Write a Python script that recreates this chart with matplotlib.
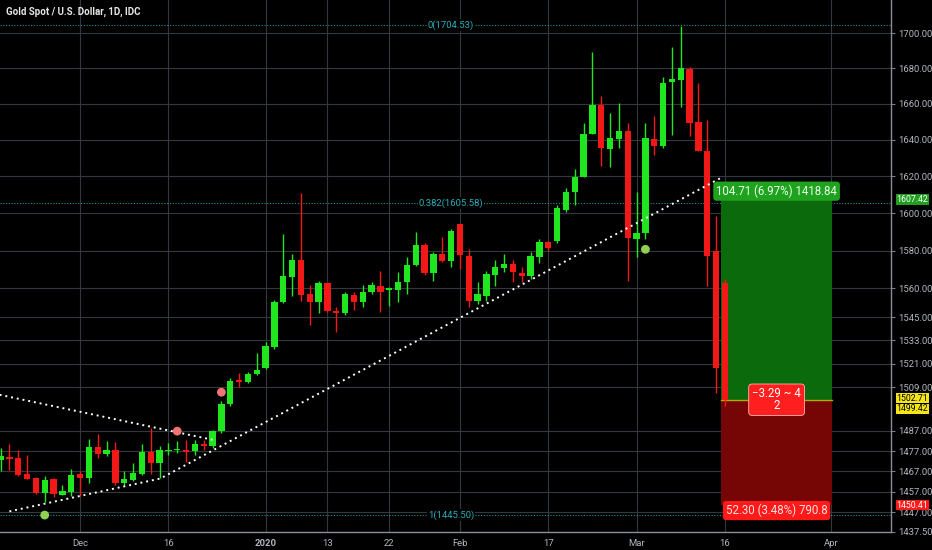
import numpy as np
import pandas as pd
import matplotlib
matplotlib.use("Agg")
import matplotlib.pyplot as plt
from matplotlib.ticker import FixedLocator, NullLocator, FuncFormatter

TITLE = "Gold Spot / U.S. Dollar, 1D, IDC"

# daily bars, first one = 19 Nov 2019 (25 Dec and 1 Jan have no bar)
opens = [1472.6, 1474.1, 1473.6, 1465.7, 1463.8, 1456.4, 1463.3, 1455.5, 1456.9, 1465.7,
         1463.8, 1479.0, 1475.5, 1477.5, 1461.3, 1462.8, 1465.7, 1476.5, 1471.1, 1477.0,
         1477.5, 1477.5, 1477.0, 1480.5, 1479.5, 1486.9, 1500.3, 1512.9, 1511.9, 1516.0,
         1519.0, 1529.7, 1552.9, 1565.9, 1574.9, 1557.0, 1552.9, 1562.8, 1548.2, 1547.2,
         1556.5, 1552.9, 1558.1, 1561.2, 1559.1, 1559.1, 1563.3, 1572.3, 1582.8, 1568.0,
         1578.1, 1574.4, 1594.0, 1577.0, 1553.4, 1556.0, 1567.0, 1570.7, 1572.8, 1568.0,
         1566.5, 1576.5, 1584.4, 1584.9, 1601.5, 1611.7, 1619.8, 1643.4, 1659.4, 1635.1,
         1640.6, 1645.0, 1586.0, 1589.2, 1640.6, 1636.8, 1672.3, 1673.4, 1679.6, 1650.0,
         1634.0, 1579.6, 1562.8]
highs = [1478.5, 1480.5, 1477.5, 1475.1, 1464.0, 1464.7, 1463.5, 1460.3, 1468.2, 1467.2,
         1483.0, 1485.4, 1482.0, 1481.5, 1467.2, 1471.1, 1480.5, 1488.4, 1479.5, 1481.0,
         1482.0, 1482.5, 1482.5, 1482.5, 1487.4, 1501.9, 1513.9, 1516.5, 1517.0, 1526.6,
         1532.3, 1553.9, 1588.7, 1578.1, 1611.2, 1561.7, 1563.8, 1563.0, 1550.3, 1558.1,
         1558.1, 1561.7, 1563.3, 1569.1, 1560.7, 1568.6, 1576.5, 1589.7, 1583.9, 1579.1,
         1587.1, 1591.3, 1594.3, 1580.7, 1563.3, 1569.1, 1574.9, 1578.1, 1574.9, 1571.2,
         1579.1, 1586.0, 1584.9, 1604.2, 1613.9, 1624.2, 1649.4, 1689.2, 1664.4, 1655.0,
         1660.5, 1649.4, 1611.7, 1649.4, 1653.3, 1675.1, 1692.0, 1704.0, 1680.7, 1671.7,
         1651.1, 1598.3, 1565.0]
lows = [1467.2, 1467.7, 1464.7, 1463.0, 1455.9, 1452.0, 1454.5, 1455.3, 1455.0, 1455.0,
        1461.3, 1473.6, 1474.6, 1460.3, 1460.3, 1462.3, 1465.2, 1465.7, 1463.8, 1475.1,
        1476.0, 1471.6, 1475.1, 1477.5, 1478.5, 1485.9, 1499.4, 1508.9, 1511.4, 1515.5,
        1518.5, 1528.7, 1552.5, 1556.0, 1553.4, 1541.0, 1547.2, 1547.8, 1537.4, 1546.2,
        1548.7, 1550.3, 1557.0, 1547.7, 1550.8, 1552.9, 1557.0, 1571.7, 1567.0, 1563.8,
        1573.8, 1571.2, 1570.2, 1550.3, 1551.8, 1553.4, 1561.2, 1568.6, 1563.3, 1563.3,
        1564.9, 1573.3, 1579.6, 1583.9, 1600.5, 1604.7, 1619.5, 1643.0, 1625.8, 1625.3,
        1635.7, 1563.8, 1576.5, 1586.0, 1631.9, 1635.7, 1642.8, 1658.3, 1642.3, 1634.0,
        1561.2, 1505.9, 1499.4]
closes = [1474.6, 1473.1, 1465.2, 1463.3, 1456.4, 1462.8, 1455.9, 1457.4, 1465.2, 1463.8,
          1479.0, 1475.5, 1477.5, 1461.3, 1463.3, 1466.2, 1476.5, 1471.1, 1477.5, 1477.5,
          1478.0, 1476.5, 1480.5, 1479.5, 1486.9, 1500.3, 1512.4, 1511.9, 1516.0, 1518.0,
          1530.2, 1552.9, 1566.5, 1574.9, 1556.5, 1552.9, 1562.8, 1548.2, 1547.2, 1557.0,
          1552.9, 1558.1, 1561.7, 1558.1, 1560.2, 1563.3, 1572.3, 1582.8, 1568.0, 1578.1,
          1574.4, 1590.3, 1577.5, 1553.4, 1557.0, 1567.5, 1571.2, 1572.8, 1568.6, 1566.5,
          1577.0, 1584.4, 1581.2, 1602.6, 1611.7, 1619.8, 1643.4, 1659.4, 1635.7, 1641.2,
          1645.0, 1586.5, 1589.2, 1641.2, 1636.8, 1671.7, 1674.0, 1680.2, 1649.4, 1634.0,
          1577.0, 1519.0, 1502.7]

START = "2019-11-19"
HOLIDAYS = ["2019-12-25", "2020-01-01"]
date_ticks = ["2019-12-02", "2019-12-16", "2020-01-02", "2020-01-13", "2020-01-22",
              "2020-02-03", "2020-02-17", "2020-03-02", "2020-03-16", "2020-04-01"]
date_labels = ["Dec", "16", "2020", "13", "22", "Feb", "17", "Mar", "16", "Apr"]

price_ticks = [1700, 1680, 1660, 1640, 1620, 1600, 1580, 1560, 1545, 1533, 1521, 1509,
               1487, 1477, 1467, 1457, 1447, 1437.5]

# fibonacci retracement levels
fib_levels = [1704.53, 1605.58, 1445.50]
fib_labels = ["0(1704.53)", "0.382(1605.58)", "1(1445.50)"]

# drawn trend lines (bar index, price)
support_x = [1.0, 18.1, 81.8]
support_y = [1447.3, 1463.4, 1619.8]
resist_x = [-0.1, 24.0]
resist_y = [1505.2, 1482.6]

# signal dots
buy_x, buy_y = [5.0, 73.0], [1445.5, 1580.7]
sell_x, sell_y = [20.0, 25.0], [1486.9, 1506.5]

# long position tool
pos_x = [81.6, 94.1]
entry, target, stop = 1502.71, 1607.42, 1450.41
tp_label = "104.71 (6.97%) 1418.84"
mid_label = "\u22123.29 ~ 4\n2"
sl_label = "52.30 (3.48%) 790.8"

# price tags on the scale
tag_prices = [1607.42, 1502.71, 1499.42, 1450.41]
tag_colors = ["#1f9e1f", "#f5e614", "#f5e614", "#ff1a1a"]
tag_text = ["white", "black", "black", "white"]

UP, DOWN = "#1fe61f", "#f21818"
GRID = "#34373d"
TXT = "#b2b5be"
FIB = "#2aaebd"

plt.rcParams["font.family"] = ["Roboto", "DejaVu Sans"]

days = pd.bdate_range(START, "2020-04-30")
days = days[~days.isin(pd.to_datetime(HOLIDAYS))]
pos = {d: i for i, d in enumerate(days)}
tick_idx = [pos[pd.Timestamp(d)] for d in date_ticks]

fig = plt.figure(figsize=(9.32, 5.5), dpi=100, facecolor="black")
ax = fig.add_axes([0, 18 / 550, 891 / 932, 532 / 550], facecolor="black")

o, h, l, c = map(np.array, (opens, highs, lows, closes))
x = np.arange(len(o))
col = np.where(c >= o, UP, DOWN)
ax.vlines(x, l, h, colors=col, linewidth=1, zorder=3)
body = np.maximum(np.abs(c - o), 0.5)
ax.bar(x, body, bottom=np.minimum(o, c), width=0.72, color=col, zorder=4)

ax.set_yscale("log")
ax.set_ylim(1437.3, 1719)
ax.set_xlim(-0.06, 100.8)

# position tool
ax.fill_between(pos_x, entry, target, color="#0b6a0b", zorder=2, lw=0)
ax.fill_between(pos_x, stop, entry, color="#760505", zorder=2, lw=0)
ax.plot(pos_x, [entry, entry], color="#b8a800", lw=1, zorder=2)
cx = sum(pos_x) / 2
ax.annotate(tp_label, (cx, target), xytext=(0, 6), textcoords="offset points",
            ha="center", va="center", fontsize=8.3, color="#eaffea", zorder=8,
            bbox=dict(boxstyle="round,pad=0.25,rounding_size=0.3", fc="#1fa31f", ec="none"))
ax.annotate(mid_label, (cx, entry), ha="center", va="center", fontsize=8.3,
            color="white", zorder=8, linespacing=0.85,
            bbox=dict(boxstyle="round,pad=0.3,rounding_size=0.3", fc="#ff1f1f",
                      ec="#ffb4b4", lw=0.6))
ax.annotate(sl_label, (cx, stop), xytext=(0, -4), textcoords="offset points",
            ha="center", va="center", fontsize=8.3, color="#ffe0e0", zorder=8,
            bbox=dict(boxstyle="round,pad=0.25,rounding_size=0.3", fc="#ff1a1a", ec="none"))

# fib levels
for lvl, lab in zip(fib_levels, fib_labels):
    ax.axhline(lvl, color=FIB, lw=0.8, ls=(0, (1, 1.5)), zorder=1.5, alpha=0.8)
    ax.text(51, lvl, lab, ha="center", va="center", fontsize=6.8, color=FIB, zorder=5,
            bbox=dict(boxstyle="square,pad=0.1", fc="black", ec="none"))

# trend lines
ax.plot(support_x, support_y, color="white", lw=1.4, ls=(0, (1, 2)), zorder=6)
ax.plot(resist_x, resist_y, color="white", lw=1.4, ls=(0, (1, 2)), zorder=6)

ax.scatter(buy_x, buy_y, s=40, color="#8fd14f", zorder=7, edgecolors="none")
ax.scatter(sell_x, sell_y, s=40, color="#ef7473", zorder=7, edgecolors="none")

# axes styling
ax.yaxis.tick_right()
ax.yaxis.set_major_locator(FixedLocator(price_ticks))
ax.yaxis.set_minor_locator(NullLocator())
ax.yaxis.set_major_formatter(FuncFormatter(lambda v, p: f"{v:.2f}"))
ax.tick_params(axis="y", colors="#787b86", labelcolor=TXT, labelsize=6.8,
               length=3, width=0.8, pad=2)
ax.set_xticks(tick_idx)
ax.set_xticklabels(date_labels)
ax.tick_params(axis="x", colors="#787b86", labelcolor=TXT, labelsize=6.8,
               length=0, pad=5)
for lab in ax.get_xticklabels():
    if lab.get_text() == "2020":
        lab.set_fontweight("bold")
ax.grid(True, color=GRID, lw=0.8, zorder=0)
ax.set_axisbelow(True)
for s in ("top", "left"):
    ax.spines[s].set_visible(False)
for s in ("right", "bottom"):
    ax.spines[s].set_color("#8a8d96")
    ax.spines[s].set_linewidth(1)

# the two yellow tags sit close together: push them apart a little
nudge = [0, 1.2, -1.8, 0]
for price, bg, fg, dy in zip(tag_prices, tag_colors, tag_text, nudge):
    ax.annotate(f"{price:.2f}", (1.0, price), xycoords=("axes fraction", "data"),
                xytext=(4, dy), textcoords="offset points", ha="left", va="center",
                fontsize=6.3, color=fg, annotation_clip=False, zorder=9,
                bbox=dict(boxstyle="square,pad=0.08", fc=bg, ec="none"))

fig.text(6 / 932, 1 - 12 / 550, TITLE, color="#e6e6e6", fontsize=7,
         fontweight="bold", va="center", ha="left")

fig.savefig("out.png", dpi=100, facecolor="black")
